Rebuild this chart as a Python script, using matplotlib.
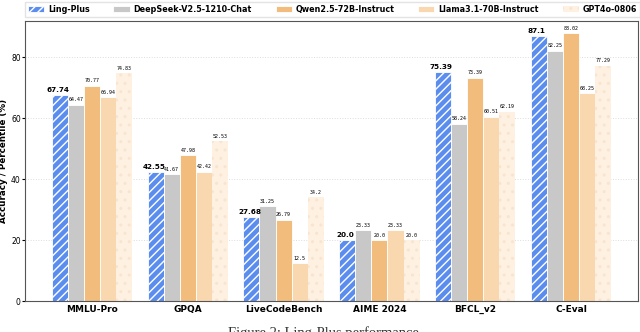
import numpy as np
import matplotlib.pyplot as plt

benchmarks = ["MMLU-Pro", "GPQA", "LiveCodeBench", "AIME 2024", "BFCL_v2", "C-Eval"]
models = ["Ling-Plus", "DeepSeek-V2.5-1210-Chat", "Qwen2.5-72B-Instruct",
          "Llama3.1-70B-Instruct", "GPT4o-0806"]
ling_plus = [67.74, 42.55, 27.68, 20.0, 75.39, 87.1]
deepseek = [64.47, 41.67, 31.25, 23.33, 58.24, 82.25]
qwen = [70.77, 47.98, 26.79, 20.0, 73.39, 88.02]
llama = [66.94, 42.42, 12.5, 23.33, 60.51, 68.25]
gpt4o = [74.83, 52.53, 34.2, 20.0, 62.19, 77.29]

series = [ling_plus, deepseek, qwen, llama, gpt4o]
colors = ["#5B8DEF", "#C8C8C8", "#F2BD7C", "#F9D8B0", "#FEF1E2"]
hatches = ["////", None, None, None, ".."]
hatch_edges = ["white", "white", "white", "white", "#F8E4CF"]

fig = plt.figure(figsize=(6.4, 3.32), dpi=100)
ax = fig.add_axes([0.039, 0.093, 0.958, 0.844])

x = np.arange(len(benchmarks))
w = 0.168
for i, (vals, name) in enumerate(zip(series, models)):
    pos = x + (i - 2) * w
    ax.bar(pos, vals, w, color=colors[i], label=name, hatch=hatches[i],
           edgecolor=hatch_edges[i], linewidth=0.6 if i != 4 else 0)
    for p, v in zip(pos, vals):
        if i == 0:
            ax.text(p - 0.02, v + 0.6, str(v), ha="center", va="bottom",
                    fontsize=5.2, fontweight="bold")
        else:
            ax.text(p, v + 0.8, str(v), ha="center", va="bottom", fontsize=3.6,
                    family="DejaVu Sans Mono")

ax.set_xlim(-0.7, 5.7)
ax.set_ylim(0, 92)
ax.set_yticks([0, 20, 40, 60, 80])
ax.tick_params(axis="y", labelsize=5.5, length=2, pad=1)
ax.set_xticks(x)
ax.set_xticklabels(benchmarks, fontsize=6.5, fontweight="bold")
ax.tick_params(axis="x", length=0, pad=3)
ax.yaxis.grid(True, linestyle=":", color="#DDDDDD", linewidth=0.7)
ax.set_axisbelow(True)
for s in ax.spines.values():
    s.set_color("#555555")
    s.set_linewidth(0.8)
ax.set_ylabel("Accuracy / Percentile (%)", fontsize=6.3, fontweight="bold", labelpad=2)

ax.legend(loc="lower left", ncol=5, mode="expand", bbox_to_anchor=(0, 1.015, 1.003, 0.05),
          prop={"size": 5.8, "weight": "bold"}, borderaxespad=0,
          frameon=True, fancybox=False, edgecolor="#DDDDDD", handlelength=2.0,
          handletextpad=0.5, borderpad=0.35, handleheight=0.7)

fig.text(0.356, -0.025, "Figure 2: Ling-Plus performance", family="Liberation Serif",
         fontsize=10.5, va="bottom", color="#333333")

fig.savefig("out.png", dpi=100)
